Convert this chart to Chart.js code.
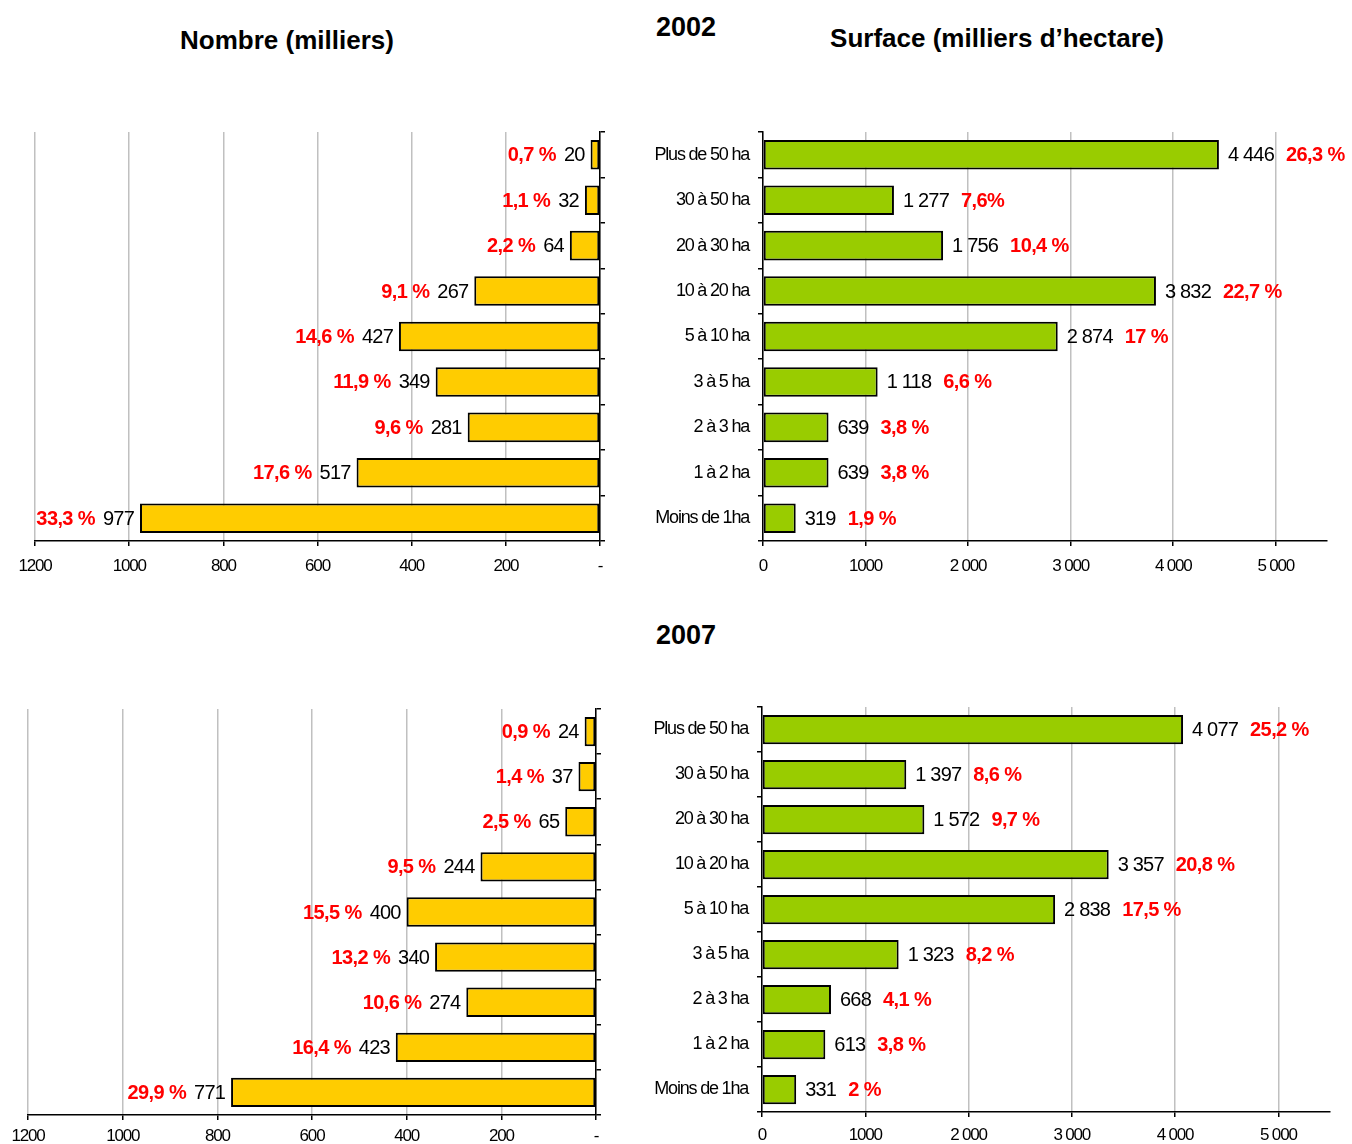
<!DOCTYPE html>
<html lang="fr">
<head>
<meta charset="UTF-8">
<title>Exploitations 2002 / 2007</title>
<script src="https://cdn.jsdelivr.net/npm/chart.js"></script>
<style>
    body { margin: 0; background: #fff; font-family: 'Liberation Sans', Arial, sans-serif; }
    #page { position: relative; width: 1352px; height: 1144px; }
    canvas { position: absolute; }
    .title { position: absolute; transform: translate(-50%, -50%); font-weight: bold; font-size: 26px; white-space: nowrap; color: #000; }
    .year { font-size: 27px; }
</style>
</head>
<body>
<div id="page">
    <div class="title" style="left:287px; top:40px">Nombre (milliers)</div>
    <div class="title year" style="left:686px; top:27px">2002</div>
    <div class="title" style="left:997px; top:38px">Surface (milliers d’hectare)</div>
    <div class="title year" style="left:686px; top:635px">2007</div>

    <canvas id="nb2002" width="620" height="490" style="left:0; top:100px"></canvas>
    <canvas id="sf2002" width="722" height="490" style="left:630px; top:100px"></canvas>
    <canvas id="nb2007" width="620" height="464" style="left:0; top:680px"></canvas>
    <canvas id="sf2007" width="722" height="464" style="left:630px; top:680px"></canvas>
</div>

<script>
// categories, top to bottom
const categories = ['Plus de 50 ha', '30 à 50 ha', '20 à 30 ha', '10 à 20 ha', '5 à 10 ha', '3 à 5 ha', '2 à 3 ha', '1 à 2 ha', 'Moins de 1ha'];

// nombre (milliers)
const nombre2002 = [20, 32, 64, 267, 427, 349, 281, 517, 977];
const nombrePct2002 = ['0,7 %', '1,1 %', '2,2 %', '9,1 %', '14,6 %', '11,9 %', '9,6 %', '17,6 %', '33,3 %'];
const nombre2007 = [24, 37, 65, 244, 400, 340, 274, 423, 771];
const nombrePct2007 = ['0,9 %', '1,4 %', '2,5 %', '9,5 %', '15,5 %', '13,2 %', '10,6 %', '16,4 %', '29,9 %'];

// surface (milliers d'hectare)
const surface2002 = [4446, 1277, 1756, 3832, 2874, 1118, 639, 639, 319];
const surfacePct2002 = ['26,3 %', '7,6%', '10,4 %', '22,7 %', '17 %', '6,6 %', '3,8 %', '3,8 %', '1,9 %'];
const surface2007 = [4077, 1397, 1572, 3357, 2838, 1323, 668, 613, 331];
const surfacePct2007 = ['25,2 %', '8,6 %', '9,7 %', '20,8 %', '17,5 %', '8,2 %', '4,1 %', '3,8 %', '2 %'];

// tick values and labels
const surfaceTickValues = [0, 1000, 2000, 3000, 4000, 5000];
const surfaceTickLabels = ['0', '1000', '2 000', '3 000', '4 000', '5 000'];
const nombreTickValues = [0, 200, 400, 600, 800, 1000, 1200];
const nombreTickLabels = ['-', '200', '400', '600', '800', '1000', '1200'];

const FONT = "'Liberation Sans', Arial, sans-serif";

function fmt(v) {
    if (v < 1000) return String(v);
    return Math.floor(v / 1000) + ' ' + String(v % 1000).padStart(3, '0');
}

// narrow text like the original; category labels a bit narrower still
const condensed = {
    id: 'condensed',
    beforeUpdate(chart) { chart.ctx.letterSpacing = '-1.2px'; },
    beforeDraw(chart) { chart.ctx.letterSpacing = '-1.2px'; },
    afterLayout(chart) {
        const y = chart.scales.y;
        if (y && !y._narrow) {
            const orig = y.draw;
            y.draw = function (area) {
                chart.ctx.letterSpacing = '-1.7px';
                orig.call(this, area);
                chart.ctx.letterSpacing = '-1.2px';
            };
            y._narrow = true;
        }
    }
};

// value + percentage next to each bar
const barLabels = {
    id: 'barLabels',
    afterDatasetsDraw(chart, args, opts) {
        const ctx = chart.ctx;
        const values = chart.data.datasets[0].data;
        ctx.save();
        ctx.textBaseline = 'middle';
        chart.getDatasetMeta(0).data.forEach((bar, i) => {
            const num = fmt(values[i]);
            const pct = opts.pct[i];
            const y = bar.y + 1;
            ctx.letterSpacing = '-0.8px';
            ctx.font = '20px ' + FONT;
            const numW = ctx.measureText(num).width;
            ctx.font = 'bold 20px ' + FONT;
            ctx.letterSpacing = '-0.6px';
            const pctW = ctx.measureText(pct).width;
            let numX, pctX;
            if (opts.side === 'left') {
                numX = bar.x - 6 - numW;
                pctX = numX - 8 - pctW;
            } else {
                numX = bar.x + 9;
                pctX = numX + numW + 12;
            }
            ctx.textAlign = 'left';
            ctx.fillStyle = '#ff0000';
            ctx.fillText(pct, pctX, y);
            ctx.letterSpacing = '-0.8px';
            ctx.font = '20px ' + FONT;
            ctx.fillStyle = '#000';
            ctx.fillText(num, numX, y);
        });
        ctx.restore();
    }
};

function fixedTicks(values, labels) {
    return {
        afterBuildTicks: s => { s.ticks = values.map(v => ({ value: v })); },
        callback: (v) => labels[values.indexOf(Math.round(v))]
    };
}

function nombreChart(id, data, pct, pad, yWidth, xHeight, tickPad) {
    const ft = fixedTicks(nombreTickValues, nombreTickLabels);
    return new Chart(document.getElementById(id), {
        type: 'bar',
        data: {
            labels: categories,
            datasets: [{
                data: data,
                backgroundColor: '#ffcc00',
                borderColor: '#000',
                borderWidth: 2,
                borderSkipped: false,
                barPercentage: 0.65,
                categoryPercentage: 1
            }]
        },
        options: {
            indexAxis: 'y',
            responsive: false,
            animation: false,
            layout: { padding: pad },
            plugins: {
                legend: { display: false },
                tooltip: { enabled: false },
                barLabels: { pct: pct, side: 'left' }
            },
            scales: {
                x: {
                    reverse: true,
                    min: 0,
                    max: 1200,
                    afterBuildTicks: ft.afterBuildTicks,
                    ticks: {
                        padding: tickPad,
                        color: '#000',
                        font: { family: FONT, size: 17 },
                        callback: ft.callback
                    },
                    grid: { color: '#c0c0c0', lineWidth: 1.5, tickLength: 5, tickColor: '#000' },
                    border: { color: '#000', width: 1.5 },
                    afterFit: s => { s.height = xHeight; }
                },
                y: {
                    position: 'right',
                    ticks: { display: false },
                    grid: { offset: true, drawOnChartArea: false, tickLength: 5, tickColor: '#000', lineWidth: 1.5 },
                    border: { color: '#000', width: 1.5 },
                    afterFit: s => { s.width = yWidth; }
                }
            }
        },
        plugins: [condensed, barLabels]
    });
}

function surfaceChart(id, data, pct, pad, yWidth, xHeight, tickPad) {
    const ft = fixedTicks(surfaceTickValues, surfaceTickLabels);
    return new Chart(document.getElementById(id), {
        type: 'bar',
        data: {
            labels: categories,
            datasets: [{
                data: data,
                backgroundColor: '#99cc00',
                borderColor: '#000',
                borderWidth: 2,
                borderSkipped: false,
                barPercentage: 0.65,
                categoryPercentage: 1
            }]
        },
        options: {
            indexAxis: 'y',
            responsive: false,
            animation: false,
            layout: { padding: pad },
            plugins: {
                legend: { display: false },
                tooltip: { enabled: false },
                barLabels: { pct: pct, side: 'right' }
            },
            scales: {
                x: {
                    min: 0,
                    max: 5500,
                    afterBuildTicks: ft.afterBuildTicks,
                    ticks: {
                        padding: tickPad,
                        color: '#000',
                        font: { family: FONT, size: 17 },
                        callback: ft.callback
                    },
                    grid: { color: '#c0c0c0', lineWidth: 1.5, tickLength: 5, tickColor: '#000' },
                    border: { color: '#000', width: 1.5 },
                    afterFit: s => { s.height = xHeight; }
                },
                y: {
                    ticks: { padding: 9, color: '#000', font: { family: FONT, size: 18 } },
                    grid: { offset: true, drawOnChartArea: false, tickLength: 5, tickColor: '#000', lineWidth: 1.5 },
                    border: { color: '#000', width: 1.5 },
                    afterFit: s => { s.width = yWidth; }
                }
            }
        },
        plugins: [condensed, barLabels]
    });
}

nombreChart('nb2002', nombre2002, nombrePct2002, { left: 35, top: 32, right: 0, bottom: 0 }, 20, 49, 10);
surfaceChart('sf2002', surface2002, surfacePct2002, { left: 0, top: 32, right: 25, bottom: 0 }, 133, 49, 10);
nombreChart('nb2007', nombre2007, nombrePct2007, { left: 28, top: 29, right: 0, bottom: 0 }, 24, 29, 6);
surfaceChart('sf2007', surface2007, surfacePct2007, { left: 0, top: 27, right: 22, bottom: 0 }, 132, 32, 8);
</script>
</body>
</html>
